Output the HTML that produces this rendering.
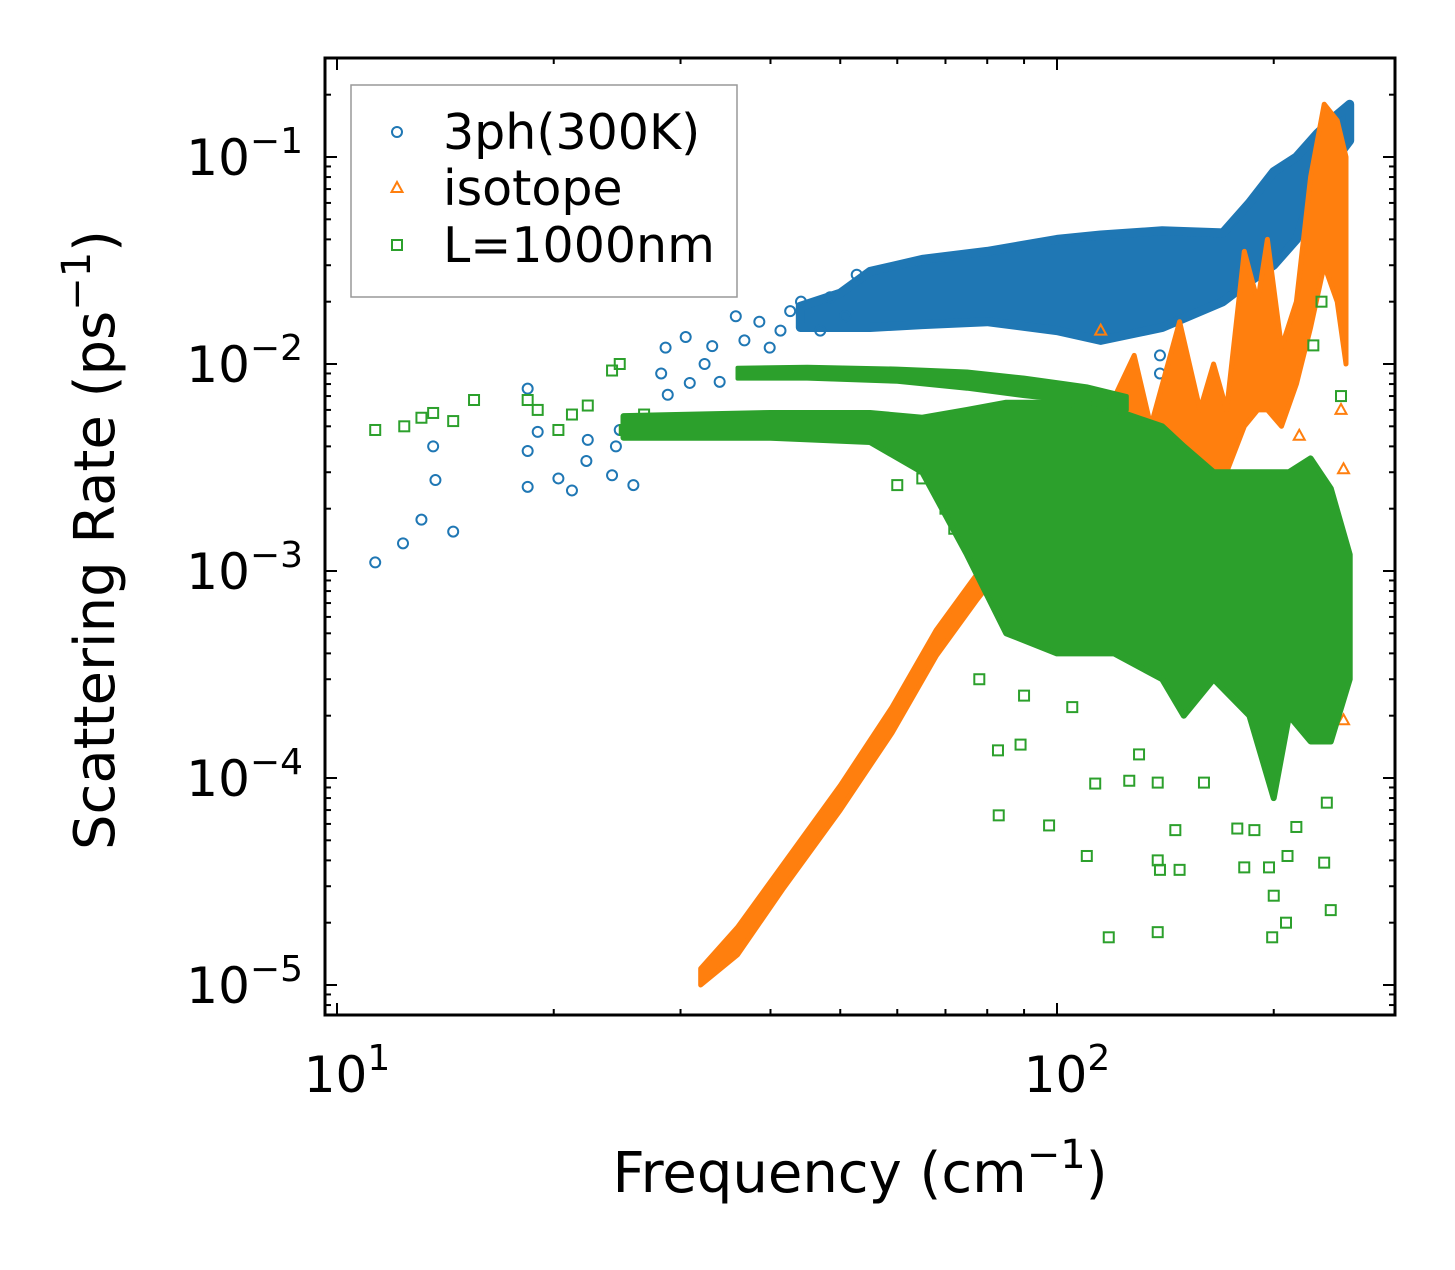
<!DOCTYPE html>
<html><head><meta charset="utf-8"><style>
body{margin:0;background:#fff;}
svg text{font-family:"DejaVu Sans","Liberation Sans",sans-serif;fill:#000;}
</style></head><body>
<svg id="chart" width="1455" height="1265" viewBox="0 0 1455 1265" xmlns="http://www.w3.org/2000/svg">
<rect width="1455" height="1265" fill="#fff"/>
<g id="data"></g>
<g id="axes"></g>
</svg>
<script>
// ---- data (frequency in cm^-1, scattering rate in ps^-1) ----
const blueFreq = [11.3,12.35,13.1,13.7,13.6,14.5,18.4,18.4,18.4,19.0,20.3,21.2,22.2,22.3,24.1,24.4,25.8,24.7,27.2,28.2,28.6,28.8,30.5,30.9,32.4,33.2,34.0,35.8,36.8,38.6,39.9,41.3,42.6,44.1,46.9,48.4,52.7,50.8,139,139];
const blueRate = [1.1e-3,1.36e-3,1.77e-3,2.75e-3,4.0e-3,1.55e-3,2.55e-3,3.8e-3,7.6e-3,4.7e-3,2.8e-3,2.45e-3,3.4e-3,4.3e-3,2.9e-3,4.0e-3,2.6e-3,4.8e-3,4.8e-3,9.0e-3,1.2e-2,7.1e-3,1.35e-2,8.1e-3,1.0e-2,1.22e-2,8.2e-3,1.7e-2,1.3e-2,1.6e-2,1.2e-2,1.45e-2,1.8e-2,2.0e-2,1.45e-2,2.1e-2,2.7e-2,1.7e-2,1.1e-2,9e-3];
const blueBandFreq = [44,50,55,65,80,100,115,140,170,185,200,215,230,245,255];
const blueBandLow  = [1.5e-2,1.5e-2,1.5e-2,1.55e-2,1.6e-2,1.45e-2,1.3e-2,1.5e-2,2e-2,2.5e-2,3e-2,4e-2,8e-2,0.1,0.12];
const blueBandHigh = [1.9e-2,2.2e-2,2.8e-2,3.2e-2,3.5e-2,4.0e-2,4.2e-2,4.4e-2,4.3e-2,6e-2,8.5e-2,0.1,0.13,0.16,0.18];

const orangeBandFreq = [32,36,41.6,50,59,68,77.5,85,95,100,115,128,135,148,158,165,172,182,190,196,205,215,225,235,245,252];
const orangeBandLow  = [1.0e-5,1.4e-5,2.9e-5,7e-5,1.65e-4,3.9e-4,7.3e-4,1.1e-3,1.2e-3,1.3e-3,1.5e-3,2e-3,2e-3,2.5e-3,2.5e-3,3e-3,3e-3,5e-3,6e-3,6e-3,5e-3,8e-3,1.5e-2,3e-2,2e-2,1e-2];
const orangeBandHigh = [1.2e-5,1.9e-5,3.8e-5,9.2e-5,2.2e-4,5.2e-4,9.7e-4,2e-3,3e-3,3.5e-3,5e-3,1.1e-2,5e-3,1.6e-2,6e-3,1.0e-2,6e-3,3.5e-2,2e-2,4e-2,1.2e-2,2e-2,8e-2,0.18,0.15,0.1];
const orangeFreq = [115,217,248,250,250,250,250];
const orangeRate = [1.45e-2,4.5e-3,6e-3,3.1e-3,1.35e-3,3.5e-4,1.9e-4];

const greenBandFreq = [25,40,55,65,75,85,100,120,140,150,165,185,200,210,225,240,255];
const greenBandLow  = [4.4e-3,4.4e-3,4.2e-3,3e-3,1.2e-3,5e-4,4e-4,4e-4,3e-4,2e-4,3e-4,2e-4,8e-5,2e-4,1.5e-4,1.5e-4,3e-4];
const greenBandHigh = [5.6e-3,5.8e-3,5.8e-3,5.5e-3,6e-3,6.5e-3,6.5e-3,6e-3,5e-3,4e-3,3e-3,3e-3,3e-3,3e-3,3.5e-3,2.5e-3,1.2e-3];
const greenUpperFreq = [36,45,60,75,90,110,125];
const greenUpperLow  = [8.5e-3,8.5e-3,8.2e-3,7.6e-3,7e-3,6.5e-3,6e-3];
const greenUpperHigh = [9.6e-3,9.7e-3,9.5e-3,9.2e-3,8.6e-3,7.8e-3,7e-3];
const greenFreq = [11.3,12.4,13.1,13.6,14.5,15.5,18.4,19.0,20.3,21.2,22.3,24.1,24.7,25.1,26.7,82.8,89,83,97.5,110,113,118,126,138,138,139,148,138,146,160,178,182,188,197,199,208,209,200,215,240,235,237,227,233,248,60,65,70,72,78,90,105,130];
const greenRate = [4.8e-3,5e-3,5.5e-3,5.8e-3,5.3e-3,6.7e-3,6.7e-3,6e-3,4.8e-3,5.7e-3,6.3e-3,9.3e-3,1.0e-2,4.8e-3,5.7e-3,1.36e-4,1.45e-4,6.6e-5,5.9e-5,4.2e-5,9.4e-5,1.7e-5,9.7e-5,9.5e-5,4e-5,3.6e-5,3.6e-5,1.8e-5,5.6e-5,9.5e-5,5.7e-5,3.7e-5,5.6e-5,3.7e-5,1.7e-5,2.0e-5,4.2e-5,2.7e-5,5.8e-5,2.3e-5,3.9e-5,7.6e-5,1.23e-2,2e-2,7e-3,2.6e-3,2.8e-3,2e-3,1.6e-3,3e-4,2.5e-4,2.2e-4,1.3e-4];

const xTickVals = [10,100];
const xTickLabels = ["1","2"];
const yTickVals = [1e-1,1e-2,1e-3,1e-4,1e-5];
const yTickLabels = ["\u22121","\u22122","\u22123","\u22124","\u22125"];

// ---- axes ----
const L=325,R=1395,T=58,B=1015;
const X = f => 337 + 720*Math.log10(f/10);
const Y = v => 157 - 207*(Math.log10(v)+1);
const NS="http://www.w3.org/2000/svg";
const dataG=document.getElementById('data'), axG=document.getElementById('axes');
function mk(tag,attrs,parent){const e=document.createElementNS(NS,tag);for(const k in attrs)e.setAttribute(k,attrs[k]);parent.appendChild(e);return e;}
const C={b:'#1f77b4',o:'#ff7f0e',g:'#2ca02c'};

function band(fr,lo,hi,col,name,sw){
  let pts=[];
  for(let i=0;i<fr.length;i++)pts.push(X(fr[i]).toFixed(1)+','+Y(hi[i]).toFixed(1));
  for(let i=fr.length-1;i>=0;i--)pts.push(X(fr[i]).toFixed(1)+','+Y(lo[i]).toFixed(1));
  const p=mk('polygon',{points:pts.join(' '),fill:col,stroke:col,'stroke-width':sw,'stroke-linejoin':'round'},dataG);
  
  
}
function marker(kind,x,y,parent){
  let e;
  if(kind==='b') e=mk('circle',{cx:x,cy:y,r:5,fill:'none',stroke:C.b,'stroke-width':2},parent);
  else if(kind==='o') e=mk('polygon',{points:`${x},${y-6} ${x+5.5},${y+4} ${x-5.5},${y+4}`,fill:'none',stroke:C.o,'stroke-width':2},parent);
  else e=mk('rect',{x:x-5,y:y-5,width:10,height:10,fill:'none',stroke:C.g,'stroke-width':2},parent);
  return e;
}
function points(kind,fr,rt,name){
  for(let i=0;i<fr.length;i++){
    const e=marker(kind,X(fr[i]),Y(rt[i]),dataG);
    
    
  }
}
band(blueBandFreq,blueBandLow,blueBandHigh,C.b,'3ph-dense-region',9);
points('b',blueFreq,blueRate,'3ph-point');
band(orangeBandFreq,orangeBandLow,orangeBandHigh,C.o,'isotope-dense-region',5);
points('o',orangeFreq,orangeRate,'isotope-point');
band(greenBandFreq,greenBandLow,greenBandHigh,C.g,'boundary-dense-region',6);
band(greenUpperFreq,greenUpperLow,greenUpperHigh,C.g,'boundary-upper-band',4);
points('g',greenFreq,greenRate,'boundary-point');

// frame
const fr=mk('rect',{x:L,y:T,width:R-L,height:B-T,fill:'none',stroke:'#000','stroke-width':3},axG);

for(let d=1;d<=100;d*=10)for(let m=1;m<10;m++){
  const x=X(10*d/10*m); if(x<L||x>R)continue;
  const len=(m===1)?12:6;
  mk('line',{x1:x,x2:x,y1:B,y2:B-len,stroke:'#000','stroke-width':2},axG);
  mk('line',{x1:x,x2:x,y1:T,y2:T+len,stroke:'#000','stroke-width':2},axG);
}
for(let d=1e-6;d<=1;d*=10)for(let m=1;m<10;m++){
  const y=Y(d*m); if(y<T||y>B)continue;
  const len=(m===1)?12:6;
  mk('line',{x1:L,x2:L+len,y1:y,y2:y,stroke:'#000','stroke-width':2},axG);
  mk('line',{x1:R,x2:R-len,y1:y,y2:y,stroke:'#000','stroke-width':2},axG);
}
xTickVals.forEach((v,i)=>{
  const t=mk('text',{x:X(v)+10,y:1092,'font-size':50,'text-anchor':'middle'},axG);
  
  
  t.innerHTML='10<tspan dy="-22" font-size="36">'+xTickLabels[i]+'</tspan>';
});
yTickVals.forEach((v,i)=>{
  const t=mk('text',{x:303,y:Y(v)+18,'font-size':50,'text-anchor':'end'},axG);
  
  
  t.innerHTML='10<tspan dy="-22" font-size="36">'+yTickLabels[i]+'</tspan>';
});
const xt=mk('text',{x:860,y:1192,'font-size':56,'text-anchor':'middle'},axG);

xt.innerHTML='Frequency (cm<tspan dy="-24" font-size="40">\u22121</tspan><tspan dy="24">)</tspan>';
const yt=mk('text',{x:0,y:0,'font-size':56,'text-anchor':'middle',transform:'translate(114,540) rotate(-90)'},axG);

yt.innerHTML='Scattering Rate (ps<tspan dy="-24" font-size="40">\u22121</tspan><tspan dy="24">)</tspan>';

// legend
const lg=mk('g',{},axG);


mk('rect',{x:351,y:85,width:386,height:212,fill:'#fff','fill-opacity':0.85,stroke:'#999','stroke-width':1.5},lg);
[['b','3ph(300K)',132],['o','isotope',188],['g','L=1000nm',245]].forEach(([k,lab,y])=>{
  const m=marker(k,397,y,lg);
  
  const t=mk('text',{x:443,y:y+17,'font-size':49},lg);
  
  
  t.textContent=lab;
});
</script>
</body></html>
